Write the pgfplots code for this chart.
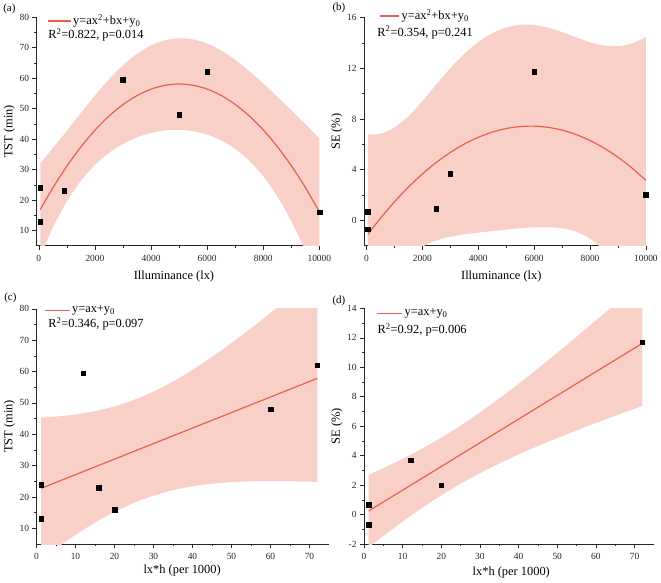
\documentclass[border=0pt]{standalone}
\usepackage{fontspec}
\setmainfont{Liberation Serif}
\usepackage{pgfplots}
\pgfplotsset{compat=1.18}
\usepgfplotslibrary{fillbetween}
\definecolor{fitred}{RGB}{230,96,72}
\definecolor{bandcol}{RGB}{249,208,200}
\tikzset{rtxt/.style={anchor=west, font=\fontsize{12.5}{13}\selectfont, inner sep=0pt},
 legline/.style={fitred, line width=1.4pt}}
\pgfplotsset{
 panel/.style={
  scale only axis,
  clip mode=individual,
  axis lines*=left,
  axis line style={black!85, line width=0.7pt},
  tick align=outside,
  major tick length=4pt, minor tick length=2pt,
  tick style={black!85, line width=0.6pt},
  minor x tick num=1, minor y tick num=1,
  scaled ticks=false,
  /pgf/number format/assume math mode=true,
  /pgf/number format/1000 sep={},
  tick label style={font=\fontsize{9.5}{10}\selectfont, text=black!85},
  xticklabel style={yshift=-2pt},
  label style={font=\fontsize{12.5}{14}\selectfont},
 },
 fitline/.style={fitred, line width=1.2pt, smooth},
 pts/.style={only marks, mark=square*, mark size=2.4pt, black},
}
\begin{document}
\begin{tikzpicture}
\path (0,0) rectangle (661pt,585pt);
\node[font=\fontsize{11}{12}\selectfont] at (6pt,578pt) {(a)};
\node[font=\fontsize{11}{12}\selectfont] at (338pt,578.3pt) {(b)};
\node[font=\fontsize{11}{12}\selectfont] at (7pt,287pt) {(c)};
\node[font=\fontsize{11}{12}\selectfont] at (338pt,283pt) {(d)};

% ---------------- (a)
\begin{axis}[panel, at={(33.3pt,339pt)}, anchor=south west,
  width=285pt, height=230.3pt,
  xmin=-85, xmax=10000, ymin=5, ymax=80,
  xtick={0,2000,4000,6000,8000,10000}, ytick={10,20,30,40,50,60,70,80},
  xlabel={Illuminance (lx)}, ylabel={TST (min)},
  xlabel style={at={(axis description cs:0.486,-0.1333)}, anchor=center},
  ylabel style={at={(axis description cs:-0.0958,0.5)}, anchor=center},
]
\addplot[name path=UA, draw=none, smooth] coordinates {
(50,32.07) (500,37.06) (1000,42.75) (1500,48.58) (2000,54.31) (2500,59.63) (3000,64.25) (3500,67.98) (4000,70.74) (4500,72.44) (5000,73.10) (5500,72.71) (6000,71.35) (6500,69.06) (7000,66.00) (7500,62.33) (8000,58.25) (8500,53.91) (9000,49.47) (9500,44.94) (10000,40.30)};
\addplot[name path=LA, draw=none, smooth] coordinates {
(50,1.67) (500,10.96) (1000,19.55) (1500,26.34) (2000,31.53) (2500,35.47) (3000,38.41) (3500,40.56) (4000,42.04) (4500,42.86) (5000,43.06) (5500,42.61) (6000,41.49) (6500,39.58) (7000,36.78) (7500,32.91) (8000,27.79) (8500,21.21) (9000,13.07) (9500,3.34) (10000,-7.96)};
\addplot[bandcol] fill between[of=UA and LA];
\addplot[fitline] coordinates {
(50,16.87) (500,24.01) (1000,31.15) (1500,37.46) (2000,42.92) (2500,47.55) (3000,51.33) (3500,54.27) (4000,56.39) (4500,57.65) (5000,58.08) (5500,57.66) (6000,56.42) (6500,54.32) (7000,51.39) (7500,47.62) (8000,43.01) (8500,37.56) (9000,31.27) (9500,24.14) (10000,16.17)};
\addplot[pts] coordinates {(50,24) (50,13) (900,23) (3000,59.5) (5000,48) (6000,62) (10000,16)};
\draw[legline] (axis description cs:0.041,0.9835) -- (axis description cs:0.1218,0.9835);
\node[rtxt] at (axis description cs:0.1291,0.9835) {y=ax\textsuperscript{2}+bx+y\textsubscript{0}};
\node[rtxt] at (axis description cs:0.041,0.9227) {R\textsuperscript{2}=0.822, p=0.014};
\end{axis}

% ---------------- (b)
\begin{axis}[panel, at={(363.3pt,339pt)}, anchor=south west,
  width=284pt, height=230pt,
  xmin=-85, xmax=10000, ymin=-2, ymax=16,
  xtick={0,2000,4000,6000,8000,10000}, ytick={0,4,8,12,16},
  xlabel={Illuminance (lx)}, ylabel={SE (\%)},
  xlabel style={at={(axis description cs:0.487,-0.1335)}, anchor=center},
  ylabel style={at={(axis description cs:-0.0961,0.5)}, anchor=center},
]
\addplot[name path=UB, draw=none, smooth] coordinates {
(50,6.758) (500,6.842) (1000,7.318) (1500,8.209) (2000,9.401) (2500,10.718) (3000,11.996) (3500,13.131) (4000,14.063) (4500,14.761) (5000,15.213) (5500,15.424) (6000,15.409) (6500,15.203) (7000,14.854) (7500,14.437) (8000,14.047) (8500,13.785) (9000,13.739) (9500,13.956) (10000,14.442)};
\addplot[name path=LB, draw=none, smooth] coordinates {
(50,-8.972) (500,-6.518) (1000,-4.414) (1500,-2.975) (2000,-2.091) (2500,-1.582) (3000,-1.288) (3500,-1.101) (4000,-0.963) (4500,-0.841) (5000,-0.727) (5500,-0.622) (6000,-0.543) (6500,-0.525) (7000,-0.616) (7500,-0.891) (8000,-1.443) (8500,-2.375) (9000,-3.775) (9500,-5.690) (10000,-8.126)};
\addplot[bandcol] fill between[of=UB and LB];
\addplot[fitline] coordinates {
(50,-1.107) (500,0.162) (1000,1.452) (1500,2.617) (2000,3.655) (2500,4.568) (3000,5.354) (3500,6.015) (4000,6.550) (4500,6.960) (5000,7.243) (5500,7.401) (6000,7.433) (6500,7.339) (7000,7.119) (7500,6.773) (8000,6.302) (8500,5.705) (9000,4.982) (9500,4.133) (10000,3.158)};
\addplot[pts] coordinates {(50,0.7) (50,-0.7) (2500,0.9) (3000,3.7) (6000,11.7) (10000,2.0)};
\draw[legline] (axis description cs:0.0553,1.0065) -- (axis description cs:0.1257,1.0065);
\node[rtxt] at (axis description cs:0.1328,1.0065) {y=ax\textsuperscript{2}+bx+y\textsubscript{0}};
\node[rtxt] at (axis description cs:0.047,0.9348) {R\textsuperscript{2}=0.354, p=0.241};
\end{axis}

% ---------------- (c)
\begin{axis}[panel, at={(33.3pt,38.5pt)}, anchor=south west,
  width=294.7pt, height=237pt,
  xmin=0, xmax=75, ymin=5, ymax=80,
  xtick={0,10,20,30,40,50,60,70}, ytick={10,20,30,40,50,60,70,80},
  xlabel={lx*h (per 1000)}, ylabel={TST (min)},
  xlabel style={at={(axis description cs:0.498,-0.1131)}, anchor=center},
  ylabel style={at={(axis description cs:-0.0926,0.5)}, anchor=center},
]
\addplot[name path=UC, draw=none, smooth] coordinates {
(1.2,45.32) (5,45.65) (10,46.33) (15,47.38) (20,48.89) (25,50.96) (30,53.60) (35,56.82) (40,60.53) (45,64.66) (50,69.10) (55,73.79) (60,78.66) (65,83.66) (70,88.77) (72,90.84)};
\addplot[name path=LC, draw=none, smooth] coordinates {
(1.2,0.20) (5,3.64) (10,7.91) (15,11.81) (20,15.25) (25,18.14) (30,20.44) (35,22.18) (40,23.42) (45,24.24) (50,24.75) (55,25.01) (60,25.10) (65,25.04) (70,24.89) (72,24.80)};
\addplot[bandcol] fill between[of=UC and LC];
\addplot[fitline] coordinates {(1.2,22.76) (72,57.82)};
\addplot[pts] coordinates {(1.2,24) (1.2,13) (16,23) (12,59.5) (60,48) (72,62) (20,16)};
\draw[legline] (axis description cs:0.0285,0.9916) -- (axis description cs:0.1133,0.9916);
\node[rtxt] at (axis description cs:0.1211,0.9916) {y=ax+y\textsubscript{0}};
\node[rtxt] at (axis description cs:0.0397,0.9346) {R\textsuperscript{2}=0.346, p=0.097};
\end{axis}

% ---------------- (d)
\begin{axis}[panel, at={(363.3pt,38.3pt)}, anchor=south west,
  width=292pt, height=237.7pt,
  xmin=0, xmax=75, ymin=-2, ymax=14,
  xtick={0,10,20,30,40,50,60,70}, ytick={-2,0,2,4,6,8,10,12,14},
  xlabel={lx*h (per 1000)}, ylabel={SE (\%)},
  xlabel style={at={(axis description cs:0.508,-0.1178)}, anchor=center},
  ylabel style={at={(axis description cs:-0.0935,0.5)}, anchor=center},
]
\addplot[name path=UD, draw=none, smooth] coordinates {
(1.2,2.715) (5,3.165) (10,3.796) (15,4.482) (20,5.232) (25,6.052) (30,6.940) (35,7.888) (40,8.884) (45,9.920) (50,10.984) (55,12.070) (60,13.173) (65,14.289) (70,15.414) (72,15.867)};
\addplot[name path=LD, draw=none, smooth] coordinates {
(1.2,-2.203) (5,-1.433) (10,-0.458) (15,0.462) (20,1.317) (25,2.102) (30,2.820) (35,3.478) (40,4.086) (45,4.656) (50,5.197) (55,5.716) (60,6.219) (65,6.709) (70,7.189) (72,7.379)};
\addplot[bandcol] fill between[of=UD and LD];
\addplot[fitline] coordinates {(1.2,0.256) (72,11.623)};
\addplot[pts] coordinates {(1.2,0.7) (1.2,-0.7) (12,3.7) (20,2.0) (72,11.7)};
\draw[legline] (axis description cs:0.0459,0.979) -- (axis description cs:0.1315,0.979);
\node[rtxt] at (axis description cs:0.1394,0.979) {y=ax+y\textsubscript{0}};
\node[rtxt] at (axis description cs:0.0459,0.9075) {R\textsuperscript{2}=0.92, p=0.006};
\end{axis}
\end{tikzpicture}
\end{document}
